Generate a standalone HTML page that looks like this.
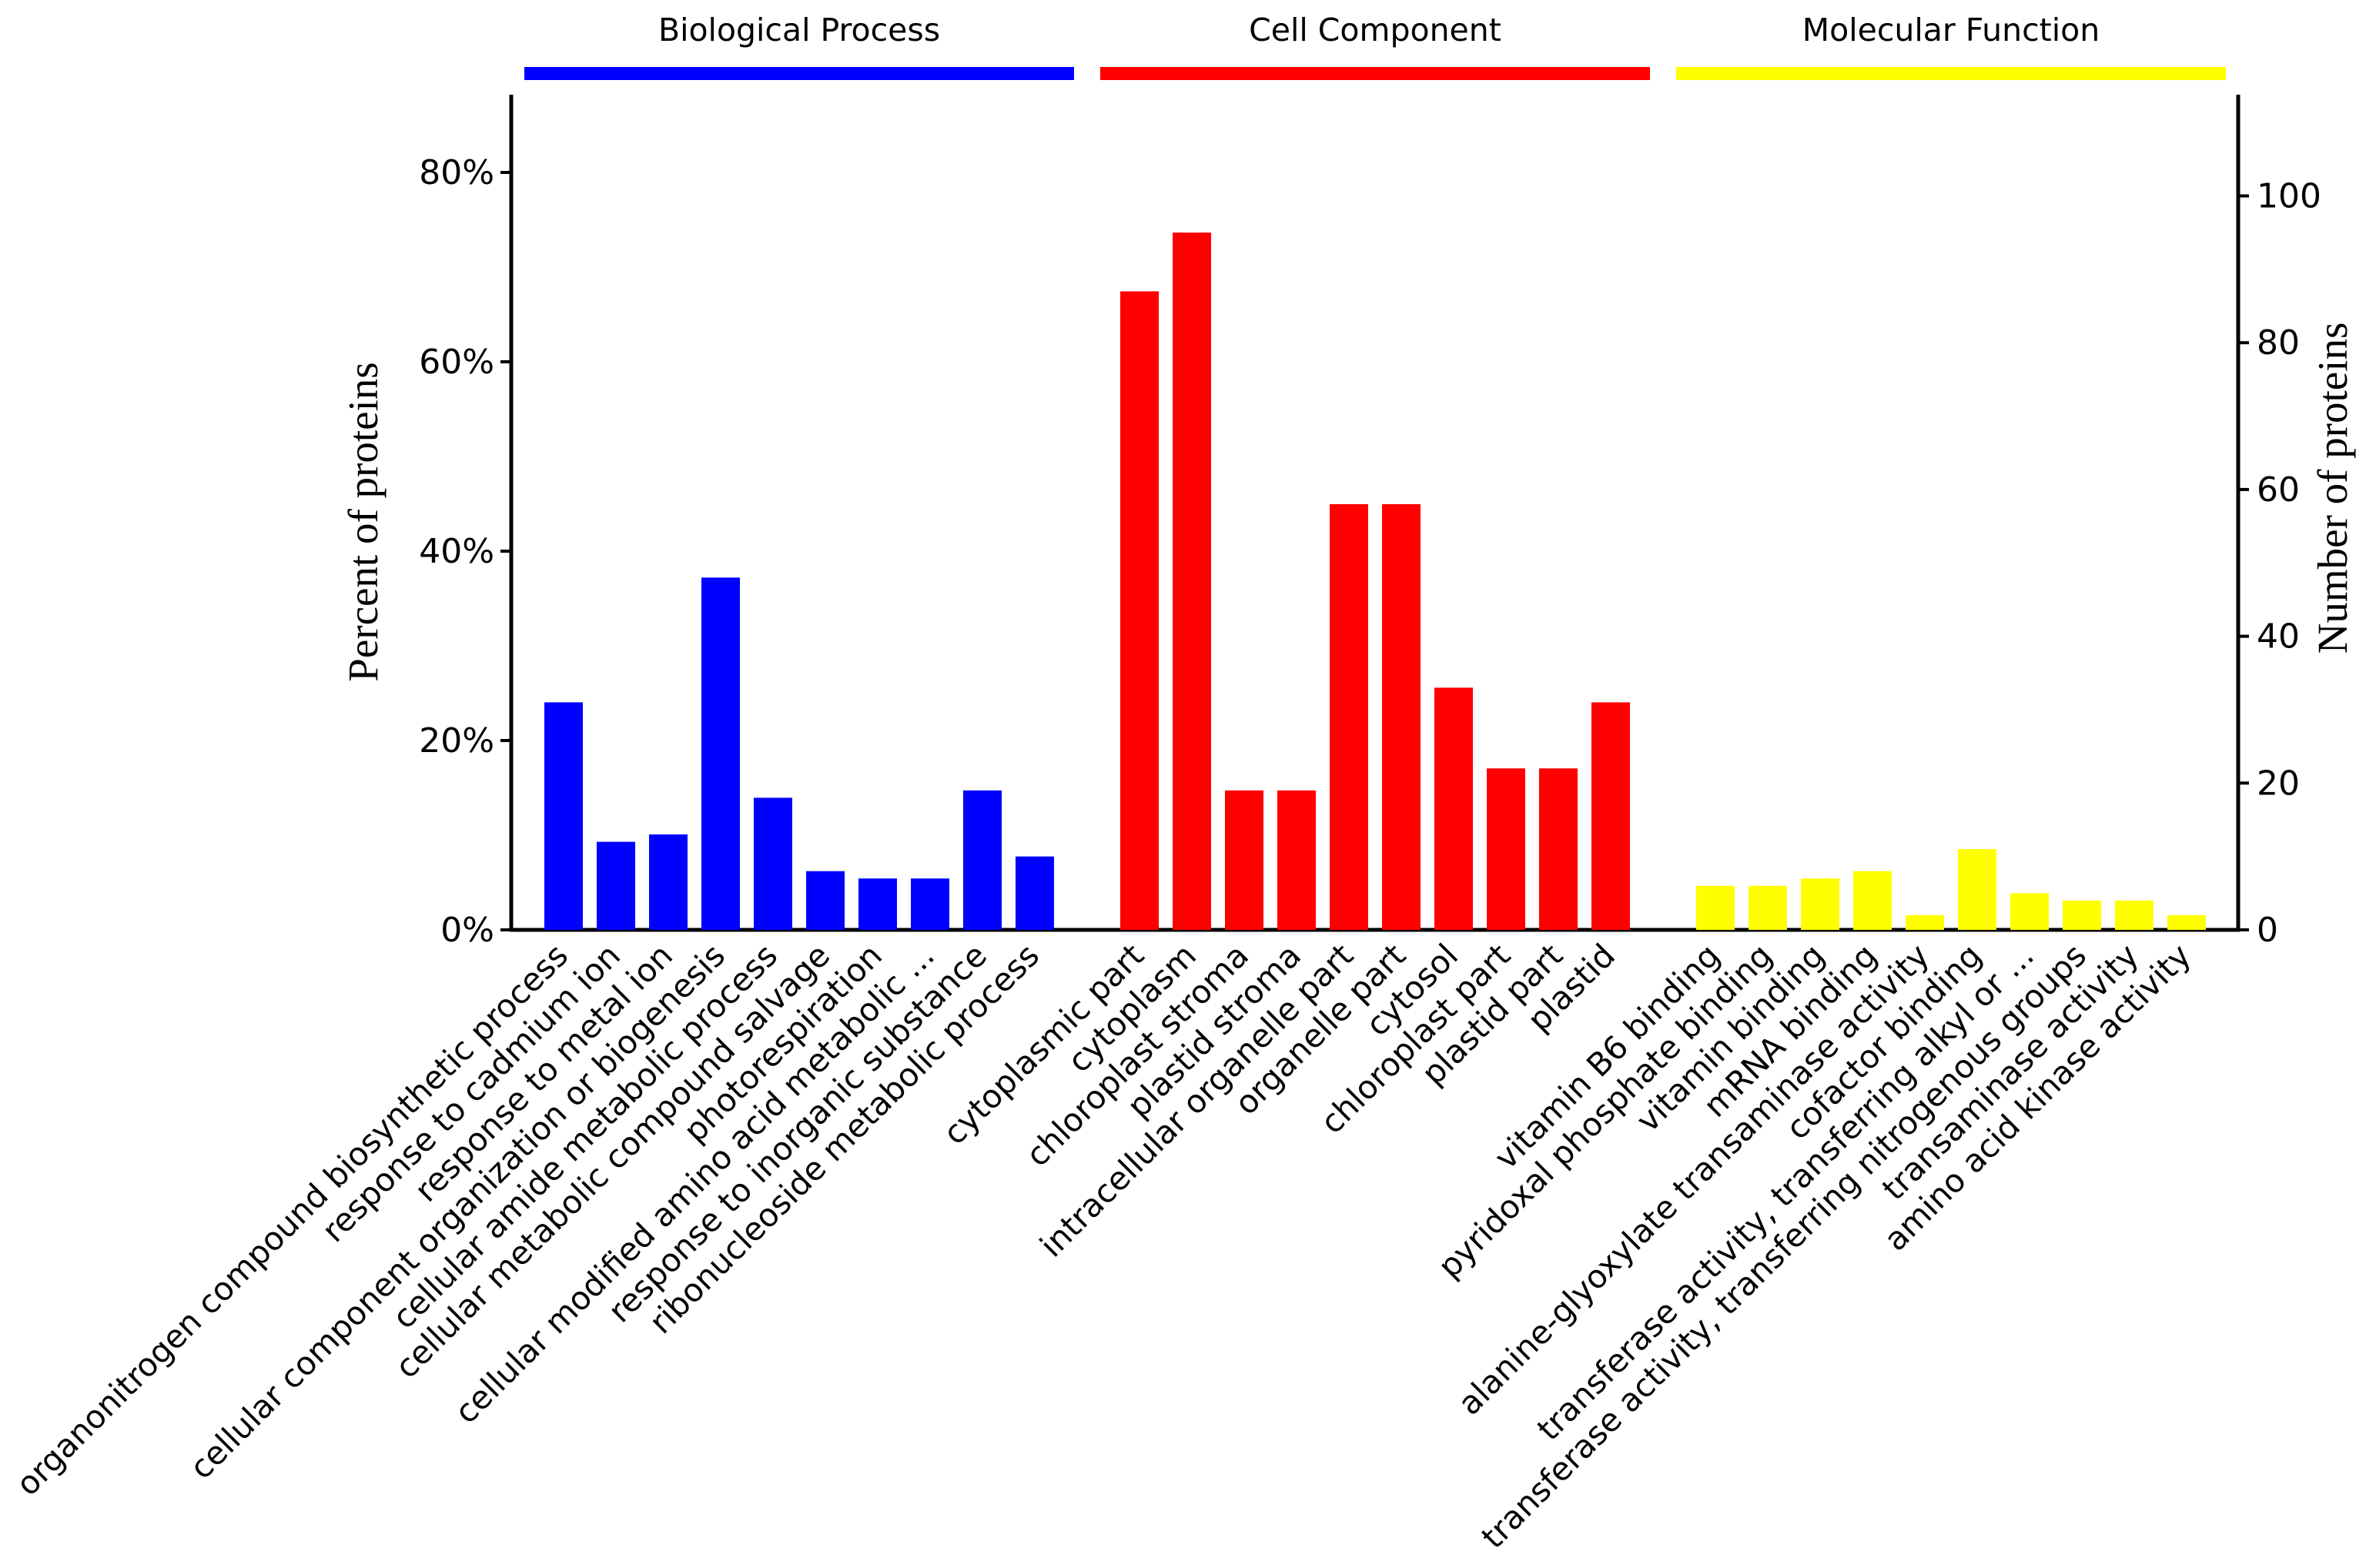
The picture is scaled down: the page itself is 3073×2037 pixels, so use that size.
<!DOCTYPE html>
<html><head><meta charset="utf-8">
<style>
html,body{margin:0;padding:0;background:#fff;}
svg{display:block;}
text{font-family:"DejaVu Sans","Liberation Sans",sans-serif;}
</style></head>
<body>
<svg id="chart" width="3073" height="2037" viewBox="0 0 3073 2037" xmlns="http://www.w3.org/2000/svg"></svg>
<script>
const bpLabels = ["organonitrogen compound biosynthetic process","response to cadmium ion","response to metal ion","cellular component organization or biogenesis","cellular amide metabolic process","cellular metabolic compound salvage","photorespiration","cellular modified amino acid metabolic ...","response to inorganic substance","ribonucleoside metabolic process"];
const bpCounts = [31,12,13,48,18,8,7,7,19,10];
const ccLabels = ["cytoplasmic part","cytoplasm","chloroplast stroma","plastid stroma","intracellular organelle part","organelle part","cytosol","chloroplast part","plastid part","plastid"];
const ccCounts = [87,95,19,19,58,58,33,22,22,31];
const mfLabels = ["vitamin B6 binding","pyridoxal phosphate binding","vitamin binding","mRNA binding","alanine-glyoxylate transaminase activity","cofactor binding","transferase activity, transferring alkyl or ...","transferase activity, transferring nitrogenous groups","transaminase activity","amino acid kinase activity"];
const mfCounts = [6,6,7,8,2,11,5,4,4,2];
const totalProteins = 129;
const leftTicks = [0,20,40,60,80];
const rightTicks = [0,20,40,60,80,100];
const groupNames = ["Biological Process","Cell Component","Molecular Function"];
const groupColors = ["#0000ff","#ff0000","#ffff00"];

const NS = "http://www.w3.org/2000/svg";
const svg = document.getElementById('chart');
function mk(tag, attrs, parent){ const e=document.createElementNS(NS,tag); for(const k in attrs) e.setAttribute(k,attrs[k]); (parent||svg).appendChild(e); return e; }

const baseY = 1208;
const leftX = 664, rightX = 2907, topY = 123;
function yPct(p){ return baseY - p*12.3; }
function yCount(n){ return yPct(n/totalProteins*100); }
function xSlot(i){ return 707 + 68*i; }
const barW = 50;

let ax = mk('line',{x1:leftX,y1:topY,x2:leftX,y2:baseY+2,stroke:'#000','stroke-width':5});
 
ax = mk('line',{x1:rightX,y1:topY,x2:rightX,y2:baseY+2,stroke:'#000','stroke-width':5});
 
ax = mk('line',{x1:leftX-2,y1:baseY,x2:rightX+2,y2:baseY,stroke:'#000','stroke-width':5});
 

leftTicks.forEach(t=>{
  const y=yPct(t);
  const l=mk('line',{x1:leftX-14,y1:y,x2:leftX,y2:y,stroke:'#000','stroke-width':4});
   
  const tx=mk('text',{x:leftX-22,y:y+15,'text-anchor':'end','font-size':44,fill:'#000'});
  tx.textContent=t+'%';
   
});
rightTicks.forEach(t=>{
  const y=baseY - t*(953.5/100);
  const l=mk('line',{x1:rightX,y1:y,x2:rightX+14,y2:y,stroke:'#000','stroke-width':4});
   
  const tx=mk('text',{x:rightX+24,y:y+15,'text-anchor':'start','font-size':44,fill:'#000'});
  tx.textContent=String(t);
   
});

let t1=mk('text',{x:0,y:0,transform:'translate(490,678) rotate(-90)','text-anchor':'middle','font-size':55,fill:'#000',style:'font-family:"Liberation Serif",serif'});
t1.textContent='Percent of proteins';
 
let t2=mk('text',{x:0,y:0,transform:'translate(3048,634) rotate(-90)','text-anchor':'middle','font-size':55,fill:'#000',style:'font-family:"Liberation Serif",serif'});
t2.textContent='Number of proteins';
 

const groups=[[bpLabels,bpCounts,0],[ccLabels,ccCounts,11],[mfLabels,mfCounts,22]];
groups.forEach((g,gi)=>{
  const x0 = xSlot(g[2]) - 26, x1 = xSlot(g[2]+g[0].length-1)+barW+26;
  const r=mk('rect',{x:x0,y:87,width:x1-x0,height:17,fill:groupColors[gi]});
   
  const tx=mk('text',{x:(x0+x1)/2,y:53,'text-anchor':'middle','font-size':41,fill:'#000'});
  tx.textContent=groupNames[gi];
   
  g[1].forEach((c,i)=>{
    const slot=g[2]+i, x=xSlot(slot), y=yCount(c);
    const b=mk('rect',{x:x,y:y,width:barW,height:baseY-y,fill:groupColors[gi]});
     
    const cx=x+barW/2+8, ly=1244;
    const lb=mk('text',{x:0,y:0,transform:'translate('+cx+','+ly+') rotate(-45)','text-anchor':'end','font-size':41.5,fill:'#000'});
    lb.textContent=g[0][i];
     
  });
});
</script>
</body></html>
